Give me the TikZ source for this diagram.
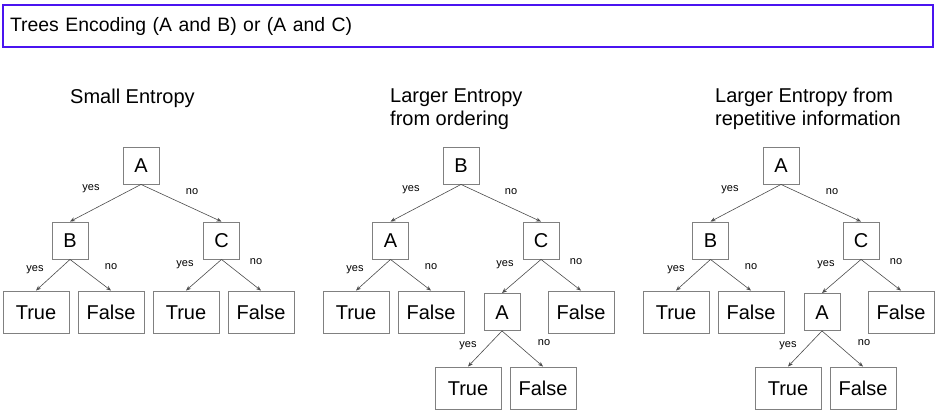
\documentclass[tikz,border=0pt]{standalone}
\usepackage{fontspec}
\setmainfont{Liberation Sans}
\usetikzlibrary{arrows.meta}
\definecolor{titleblue}{RGB}{74,20,240}

\begin{document}
\begin{tikzpicture}[x=1pt, y=-1pt,
  qbox/.style={draw=gray, line width=0.9pt, minimum width=36, minimum height=37, inner sep=0pt, text height=14.3pt, text depth=0pt, font=\fontsize{20}{23}\selectfont},
  leaf/.style={qbox, minimum width=66, minimum height=42},
  edge/.style={draw=black!70, line width=0.6pt, -{Stealth[length=5pt,width=4pt]}},
  ans/.style={font=\fontsize{11}{13}\selectfont, inner sep=0pt},
  heading/.style={font=\fontsize{20}{23}\selectfont, align=left, inner sep=0pt, anchor=base west}]
  \useasboundingbox (0,0) rectangle (939,415);
  \node[draw=titleblue, line width=2.2pt, minimum width=930, minimum height=42, text width=916, align=left, inner sep=0pt, font=\fontsize{19.4}{23}\selectfont] (title) at (468,26) {Trees Encoding (A and B) or (A and C)};

  % small entropy
  \node[heading] (h1) at (70,103) {Small Entropy};
  \node[qbox] (a1) at (141,165.5) {A};
  \node[qbox] (b1) at (70,240.5) {B};
  \node[qbox] (c1) at (221.5,240.5) {C};
  \node[leaf] (bt1) at (36,312) {True};
  \node[leaf] (bf1) at (111,312) {False};
  \node[leaf] (ct1) at (186,312) {True};
  \node[leaf] (cf1) at (261,312) {False};
  \draw[edge] (a1.south) -- (b1.north);
  \draw[edge] (a1.south) -- (c1.north);
  \draw[edge] (b1.south) -- (bt1.north);
  \draw[edge] (b1.south) -- (bf1.north);
  \draw[edge] (c1.south) -- (ct1.north);
  \draw[edge] (c1.south) -- (cf1.north);
  \node[ans] (ay1) at (91,189) {yes};
  \node[ans] (an1) at (192,192) {no};
  \node[ans] (by1) at (35,270) {yes};
  \node[ans] (bn1) at (111,267) {no};
  \node[ans] (cy1) at (185,265) {yes};
  \node[ans] (cn1) at (256,262) {no};

  % larger entropy, ordering
  \node[heading] (h2) at (390,125) {Larger Entropy\\from ordering};
  \node[qbox] (b2) at (461,165.5) {B};
  \node[qbox] (a2) at (390.5,240.5) {A};
  \node[qbox] (c2) at (541,240.5) {C};
  \node[leaf] (at2) at (356,312) {True};
  \node[leaf] (af2) at (431,312) {False};
  \node[qbox] (ca2) at (502,312) {A};
  \node[leaf] (cf2) at (581,312) {False};
  \node[leaf] (cat2) at (468,388) {True};
  \node[leaf] (caf2) at (543,388) {False};
  \draw[edge] (b2.south) -- (a2.north);
  \draw[edge] (b2.south) -- (c2.north);
  \draw[edge] (a2.south) -- (at2.north);
  \draw[edge] (a2.south) -- (af2.north);
  \draw[edge] (c2.south) -- (ca2.north);
  \draw[edge] (c2.south) -- (cf2.north);
  \draw[edge] (ca2.south) -- (cat2.north);
  \draw[edge] (ca2.south) -- (caf2.north);
  \node[ans] (by2) at (411,190) {yes};
  \node[ans] (bn2) at (511,192) {no};
  \node[ans] (ay2) at (355,270) {yes};
  \node[ans] (an2) at (431,267) {no};
  \node[ans] (cy2) at (505,265) {yes};
  \node[ans] (cn2) at (576,262) {no};
  \node[ans] (cay2) at (468,346) {yes};
  \node[ans] (can2) at (544,343) {no};

  % larger entropy, repetition
  \node[heading] (h3) at (715,125) {Larger Entropy from\\repetitive information};
  \node[qbox] (a3) at (781,165.5) {A};
  \node[qbox] (b3) at (710.5,240.5) {B};
  \node[qbox] (c3) at (861,240.5) {C};
  \node[leaf] (bt3) at (676,312) {True};
  \node[leaf] (bf3) at (751,312) {False};
  \node[qbox] (ca3) at (822,312) {A};
  \node[leaf] (cf3) at (901,312) {False};
  \node[leaf] (cat3) at (788,388) {True};
  \node[leaf] (caf3) at (863,388) {False};
  \draw[edge] (a3.south) -- (b3.north);
  \draw[edge] (a3.south) -- (c3.north);
  \draw[edge] (b3.south) -- (bt3.north);
  \draw[edge] (b3.south) -- (bf3.north);
  \draw[edge] (c3.south) -- (ca3.north);
  \draw[edge] (c3.south) -- (cf3.north);
  \draw[edge] (ca3.south) -- (cat3.north);
  \draw[edge] (ca3.south) -- (caf3.north);
  \node[ans] (ay3) at (730,190) {yes};
  \node[ans] (an3) at (832,192) {no};
  \node[ans] (by3) at (676,270) {yes};
  \node[ans] (bn3) at (751,267) {no};
  \node[ans] (cy3) at (826,265) {yes};
  \node[ans] (cn3) at (896,262) {no};
  \node[ans] (cay3) at (788,346) {yes};
  \node[ans] (can3) at (864,343) {no};
\end{tikzpicture}
\end{document}
